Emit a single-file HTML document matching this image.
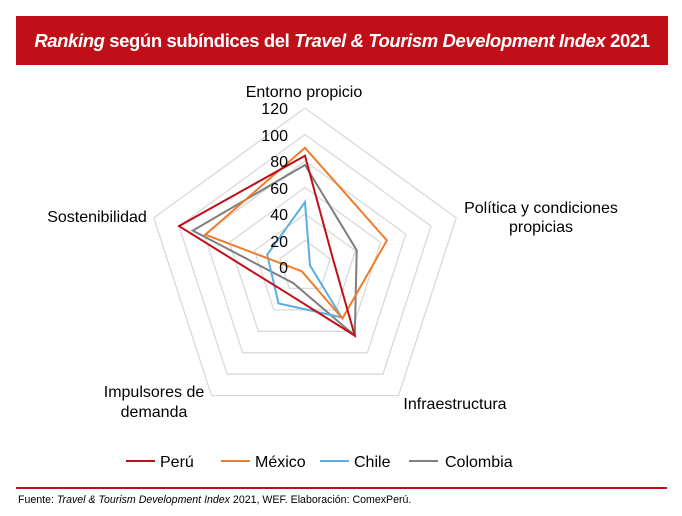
<!DOCTYPE html>
<html><head><meta charset="utf-8"><style>
body{margin:0;background:#fff;width:682px;height:516px;overflow:hidden;font-family:"Liberation Sans",Arial,sans-serif;}
.bar{position:absolute;left:16px;top:16px;width:652px;height:49px;background:#c00f18;color:#fff;font-weight:bold;font-size:18.5px;line-height:49px;text-align:center;letter-spacing:-0.4px}
.foot{position:absolute;left:18px;top:494px;font-size:10.6px;color:#000}
.rule{position:absolute;left:16px;top:487px;width:651px;height:2px;background:#c00f18}
</style></head><body>
<div class="bar"><i>Ranking</i> según subíndices del <i>Travel &amp; Tourism Development Index</i> 2021</div>
<svg width="682" height="516" style="position:absolute;left:0;top:0">
<g id="grid" fill="none" stroke="#d9d9d9" stroke-width="1.3"></g>
<g id="ser" fill="none" stroke-width="2"></g>
<g font-size="16" fill="#000" text-anchor="end">
<text x="288" y="114">120</text><text x="288" y="141">100</text><text x="288" y="167">80</text><text x="288" y="194">60</text><text x="288" y="220">40</text><text x="288" y="247">20</text><text x="288" y="273">0</text>
</g>
<g font-size="16" fill="#000">
<text x="304" y="97" text-anchor="middle">Entorno propicio</text>
<text x="541" y="213" text-anchor="middle">Política y condiciones</text>
<text x="541" y="232" text-anchor="middle">propicias</text>
<text x="455" y="409" text-anchor="middle">Infraestructura</text>
<text x="154" y="397" text-anchor="middle">Impulsores de</text>
<text x="154" y="417" text-anchor="middle">demanda</text>
<text x="97" y="222" text-anchor="middle">Sostenibilidad</text>
</g>
<g font-size="16" stroke-width="2">
<line x1="126" y1="461" x2="155" y2="461" stroke="#c00f18"/><text x="160" y="467">Perú</text>
<line x1="221" y1="461" x2="250" y2="461" stroke="#f07c2a"/><text x="255" y="467">México</text>
<line x1="320" y1="461" x2="349" y2="461" stroke="#5aaee0"/><text x="354" y="467">Chile</text>
<line x1="409" y1="461" x2="438" y2="461" stroke="#7f7f7f"/><text x="445" y="467">Colombia</text>
</g>
</svg>
<div class="rule"></div>
<div class="foot">Fuente: <i>Travel &amp; Tourism Development Index</i> 2021, WEF. Elaboración: ComexPerú.</div>
<script>
var cx=305,cy=267,s=159/120,ns="http://www.w3.org/2000/svg";
function pts(v){return v.map(function(r,k){var a=(-90+72*k)*Math.PI/180;return (cx+r*s*Math.cos(a)).toFixed(1)+","+(cy+r*s*Math.sin(a)).toFixed(1)}).join(" ")}
var g=document.getElementById("grid");
for(var l=20;l<=120;l+=20){var p=document.createElementNS(ns,"polygon");p.setAttribute("points",pts([l,l,l,l,l]));g.appendChild(p)}
var S=[["#7f7f7f",[77,41,64,15,89]],["#5aaee0",[49,4,47,34,30]],["#f07c2a",[90,65,48,4,79]],["#c00f18",[84,22,64,24,100]]];
var sg=document.getElementById("ser");
S.forEach(function(d){var p=document.createElementNS(ns,"polygon");p.setAttribute("points",pts(d[1]));p.setAttribute("stroke",d[0]);sg.appendChild(p)});
</script>
</body></html>
